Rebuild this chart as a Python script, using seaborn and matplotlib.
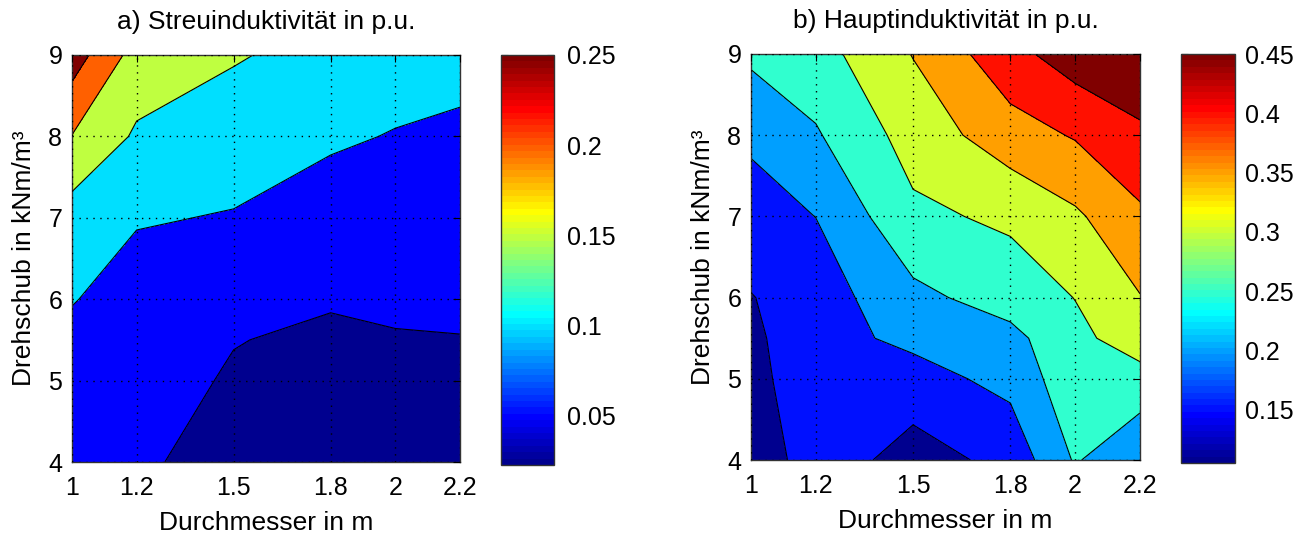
import numpy as np
import matplotlib
matplotlib.use("Agg")
import matplotlib.pyplot as plt
import seaborn as sns
from matplotlib.colors import Normalize, ListedColormap
from matplotlib.cm import ScalarMappable

# ---------------- data ----------------
durchmesser = [1.0, 1.2, 1.5, 1.8, 2.0, 2.2]          # x grid (m)
drehschub = [4.0, 5.0, 5.5, 6.0, 7.0, 8.0, 9.0]       # y grid (kNm/m^3)

# a) Streuinduktivitaet (rows = drehschub, cols = durchmesser)
streu_4 = [0.056, 0.055, 0.0378, 0.025, 0.025, 0.0226]
streu_5 = [0.060, 0.060, 0.0475, 0.040, 0.041, 0.042]
streu_55 = [0.085, 0.066, 0.0508, 0.046, 0.047, 0.049]
streu_6 = [0.103, 0.075, 0.054, 0.052, 0.0577, 0.056]
streu_7 = [0.127, 0.1044, 0.0968, 0.073, 0.070, 0.068]
streu_8 = [0.1985, 0.143, 0.126, 0.108, 0.0972, 0.0888]
streu_9 = [0.275, 0.180, 0.154, 0.134, 0.125, 0.120]

# b) Hauptinduktivitaet
haupt_4 = [0.105, 0.185, 0.1255, 0.167, 0.255, 0.205]
haupt_5 = [0.130, 0.190, 0.182, 0.214, 0.285, 0.2826]
haupt_55 = [0.1395, 0.183, 0.211, 0.235, 0.288, 0.324]
haupt_6 = [0.148, 0.175, 0.237, 0.2725, 0.301, 0.348]
haupt_7 = [0.180, 0.2005, 0.290, 0.309, 0.342, 0.390]
haupt_8 = [0.208, 0.245, 0.320, 0.3785, 0.404, 0.4456]
haupt_9 = [0.260, 0.280, 0.352, 0.434, 0.476, 0.469]

streu_levels = [0.05, 0.10, 0.15, 0.20, 0.25]
haupt_levels = [0.15, 0.20, 0.25, 0.30, 0.35, 0.40, 0.45]

x_ticks = [1, 1.2, 1.5, 1.8, 2, 2.2]
x_ticklabels = ["1", "1.2", "1.5", "1.8", "2", "2.2"]
y_ticks = [4, 5, 6, 7, 8, 9]
y_ticklabels = ["4", "5", "6", "7", "8", "9"]
streu_cticks = [0.05, 0.10, 0.15, 0.20, 0.25]
streu_cticklabels = ["0.05", "0.1", "0.15", "0.2", "0.25"]
haupt_cticks = [0.15, 0.20, 0.25, 0.30, 0.35, 0.40, 0.45]
haupt_cticklabels = ["0.15", "0.2", "0.25", "0.3", "0.35", "0.4", "0.45"]

titles = ["a) Streuinduktivität in p.u.", "b) Hauptinduktivität in p.u."]
xlabel = "Durchmesser in m"
ylabel = "Drehschub in kNm/m³"

# ---------------- style ----------------
sns.set_theme(style="white")
plt.rcParams["font.family"] = ["Liberation Sans", "DejaVu Sans"]
plt.rcParams["text.color"] = "black"
plt.rcParams["axes.labelcolor"] = "black"
plt.rcParams["xtick.color"] = "black"
plt.rcParams["ytick.color"] = "black"


def matlab_jet(m=64):
    n = int(np.ceil(m / 4))
    u = np.concatenate([np.arange(1, n + 1) / n, np.ones(n - 1), np.arange(n, 0, -1) / n])
    g = int(np.ceil(n / 2)) - (1 if m % 4 == 1 else 0) + np.arange(1, len(u) + 1)
    r = g + n
    b = g - n
    J = np.zeros((m, 3))
    J[r[r <= m] - 1, 0] = u[r <= m]
    J[g[g <= m] - 1, 1] = u[g <= m]
    J[b[b >= 1] - 1, 2] = u[b >= 1]
    return ListedColormap(J)


jet64 = matlab_jet(64)

W, H = 1311, 538
fig = plt.figure(figsize=(W / 100, H / 100), dpi=100)


def frac(l, t, r, b):
    return [l / W, 1 - b / H, (r - l) / W, (b - t) / H]


panels = [
    dict(z=[streu_4, streu_5, streu_55, streu_6, streu_7, streu_8, streu_9],
         levels=streu_levels, cticks=streu_cticks, ctl=streu_cticklabels,
         ax=(72, 55, 460, 462), cb=(501, 55, 554, 465), title=titles[0], cpad=9),
    dict(z=[haupt_4, haupt_5, haupt_55, haupt_6, haupt_7, haupt_8, haupt_9],
         levels=haupt_levels, cticks=haupt_cticks, ctl=haupt_cticklabels,
         ax=(751, 54, 1140, 460), cb=(1181, 54, 1235, 463), title=titles[1], cpad=7),
]

X, Y = np.meshgrid(durchmesser, drehschub)
for p in panels:
    Z = np.array(p["z"])
    zmin, zmax = Z.min(), Z.max()
    top = max(l for l in p["levels"] if l <= zmax)
    norm = Normalize(vmin=zmin, vmax=top)
    lower = [zmin] + list(p["levels"])
    bounds = [zmin - 1e-6] + list(p["levels"]) + [zmax + 1e-6]
    fill_colors = [jet64(min(norm(v), 0.9999)) for v in lower]

    ax = fig.add_axes(frac(*p["ax"]))
    ax.contourf(X, Y, Z, levels=bounds, colors=fill_colors, zorder=1)
    ax.contour(X, Y, Z, levels=p["levels"], colors="black", linewidths=0.8, zorder=2)

    ax.set_xlim(1, 2.2)
    ax.set_ylim(4, 9)
    ax.set_xticks(x_ticks)
    ax.set_xticklabels(x_ticklabels)
    ax.set_yticks(y_ticks)
    ax.set_yticklabels(y_ticklabels)
    ax.tick_params(direction="in", top=True, right=True, length=5, width=0.8,
                   labelsize=18, color="black")
    ax.tick_params(axis="x", pad=10)
    ax.tick_params(axis="y", pad=7)
    ax.set_axisbelow(False)
    ax.grid(True, linestyle=(0, (1, 4)), color="black", linewidth=1.0)
    for s in ax.spines.values():
        s.set_color("#333333")
        s.set_linewidth(1.0)
        s.set_visible(True)
    ax.set_xlabel(xlabel, fontsize=19, labelpad=8)
    ax.set_ylabel(ylabel, fontsize=19, labelpad=8.5)
    ax.set_title(p["title"], fontsize=19, pad=18.5)

    cax = fig.add_axes(frac(*p["cb"]))
    sm = ScalarMappable(norm=norm, cmap=jet64)
    cb = fig.colorbar(sm, cax=cax)
    cb.set_ticks(p["cticks"])
    cb.set_ticklabels(p["ctl"])
    cb.outline.set_edgecolor("#333333")
    cb.outline.set_linewidth(1.0)
    cax.tick_params(direction="in", left=True, right=True, length=5, width=0.8,
                    labelsize=18, pad=p["cpad"], color="black")

fig.savefig("out.png", dpi=100)
